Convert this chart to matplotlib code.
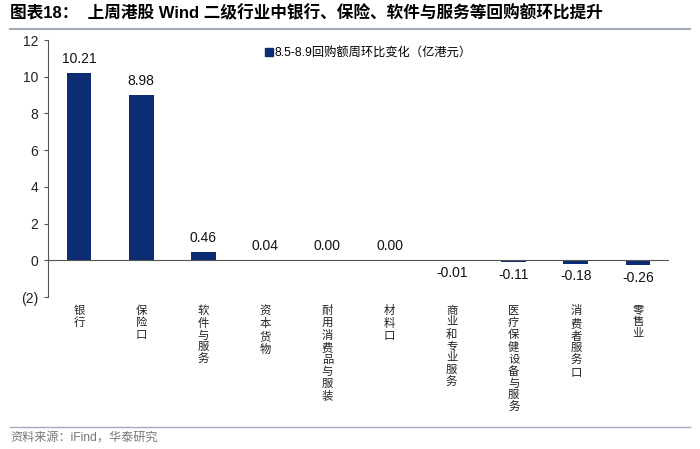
import matplotlib
matplotlib.use("Agg")
import matplotlib.pyplot as plt
from matplotlib.lines import Line2D

plt.rcParams['font.family'] = ['Liberation Sans', 'Noto Sans CJK SC', 'DejaVu Sans']

categories = ["银行", "保险口", "软件与服务", "资本货物", "耐用消费品与服装",
              "材料口", "商业和专业服务", "医疗保健设备与服务", "消费者服务口", "零售业"]
values = [10.21, 8.98, 0.46, 0.04, 0.00, 0.00, -0.01, -0.11, -0.18, -0.26]
value_labels = ["10.21", "8.98", "0.46", "0.04", "0.00", "0.00", "-0.01", "-0.11", "-0.18", "-0.26"]
yticks = [-2, 0, 2, 4, 6, 8, 10, 12]
ytick_labels = ["(2)", "0", "2", "4", "6", "8", "10", "12"]
legend_label = "8.5-8.9回购额周环比变化（亿港元）"
title = "图表18：  上周港股 Wind 二级行业中银行、保险、软件与服务等回购额环比提升"
source = "资料来源：iFind，华泰研究"

bar_color = "#0c2d74"

fig = plt.figure(figsize=(7, 4.49), dpi=100)
ax = fig.add_axes([48/700, 1-297/449, (669-48)/700, (297-40)/449])

x = list(range(len(categories)))
ax.bar(x, values, width=0.4, color=bar_color, zorder=3)
ax.set_xlim(-0.5, len(categories)-0.5)
ax.set_ylim(-2, 12)
ax.set_yticks(yticks)
ax.set_yticklabels(ytick_labels, fontsize=10, color="#222222")
ax.tick_params(axis='y', direction='out', length=3, width=0.8, color="#555555", pad=4)
ax.set_xticks([])
for s in ["top", "right", "bottom"]:
    ax.spines[s].set_visible(False)
ax.spines["left"].set_color("#555555")
ax.spines["left"].set_linewidth(0.8)
ax.axhline(0, color="#555555", linewidth=0.8, zorder=4)

for xi, v, lab in zip(x, values, value_labels):
    if v >= 0:
        ax.annotate(lab, (xi, v), xytext=(0, 5), textcoords="offset points",
                    ha="center", va="bottom", fontsize=10, color="#111111")
    else:
        ax.annotate(lab, (xi, v), xytext=(0, -4), textcoords="offset points",
                    ha="center", va="top", fontsize=10, color="#111111")

for xi, c in zip(x, categories):
    ax.annotate("\n".join(c), (xi, -2), xytext=(0, -6), textcoords="offset points",
                ha="center", va="top", fontsize=8.2, linespacing=1.2,
                family=['Noto Sans CJK SC', 'DejaVu Sans'], color="#222222")

handle = Line2D([], [], marker='s', linestyle='None', markersize=6, color=bar_color)
leg = ax.legend([handle], [legend_label], loc="upper left", bbox_to_anchor=(0.33, 1.015),
                frameon=False, handletextpad=0.1, handlelength=0.8,
                prop={'family': ['Liberation Sans', 'Noto Sans CJK SC'], 'size': 8.8})

fig.text(10/700, 1-13/449, title, fontsize=12, fontweight="bold", va="center", ha="left",
         family=['Liberation Sans', 'Noto Sans CJK SC'])
fig.add_artist(Line2D([10/700, 690/700], [1-29/449, 1-29/449], color="#a0aab8", linewidth=1.5))
fig.add_artist(Line2D([10/700, 690/700], [1-427/449, 1-427/449], color="#a0aab8", linewidth=1.0))
fig.text(10/700, 1-438/449, source, fontsize=8.7, color="#777777", va="center", ha="left",
         family=['Liberation Sans', 'Noto Sans CJK SC'])

fig.savefig("out.png", dpi=100)
